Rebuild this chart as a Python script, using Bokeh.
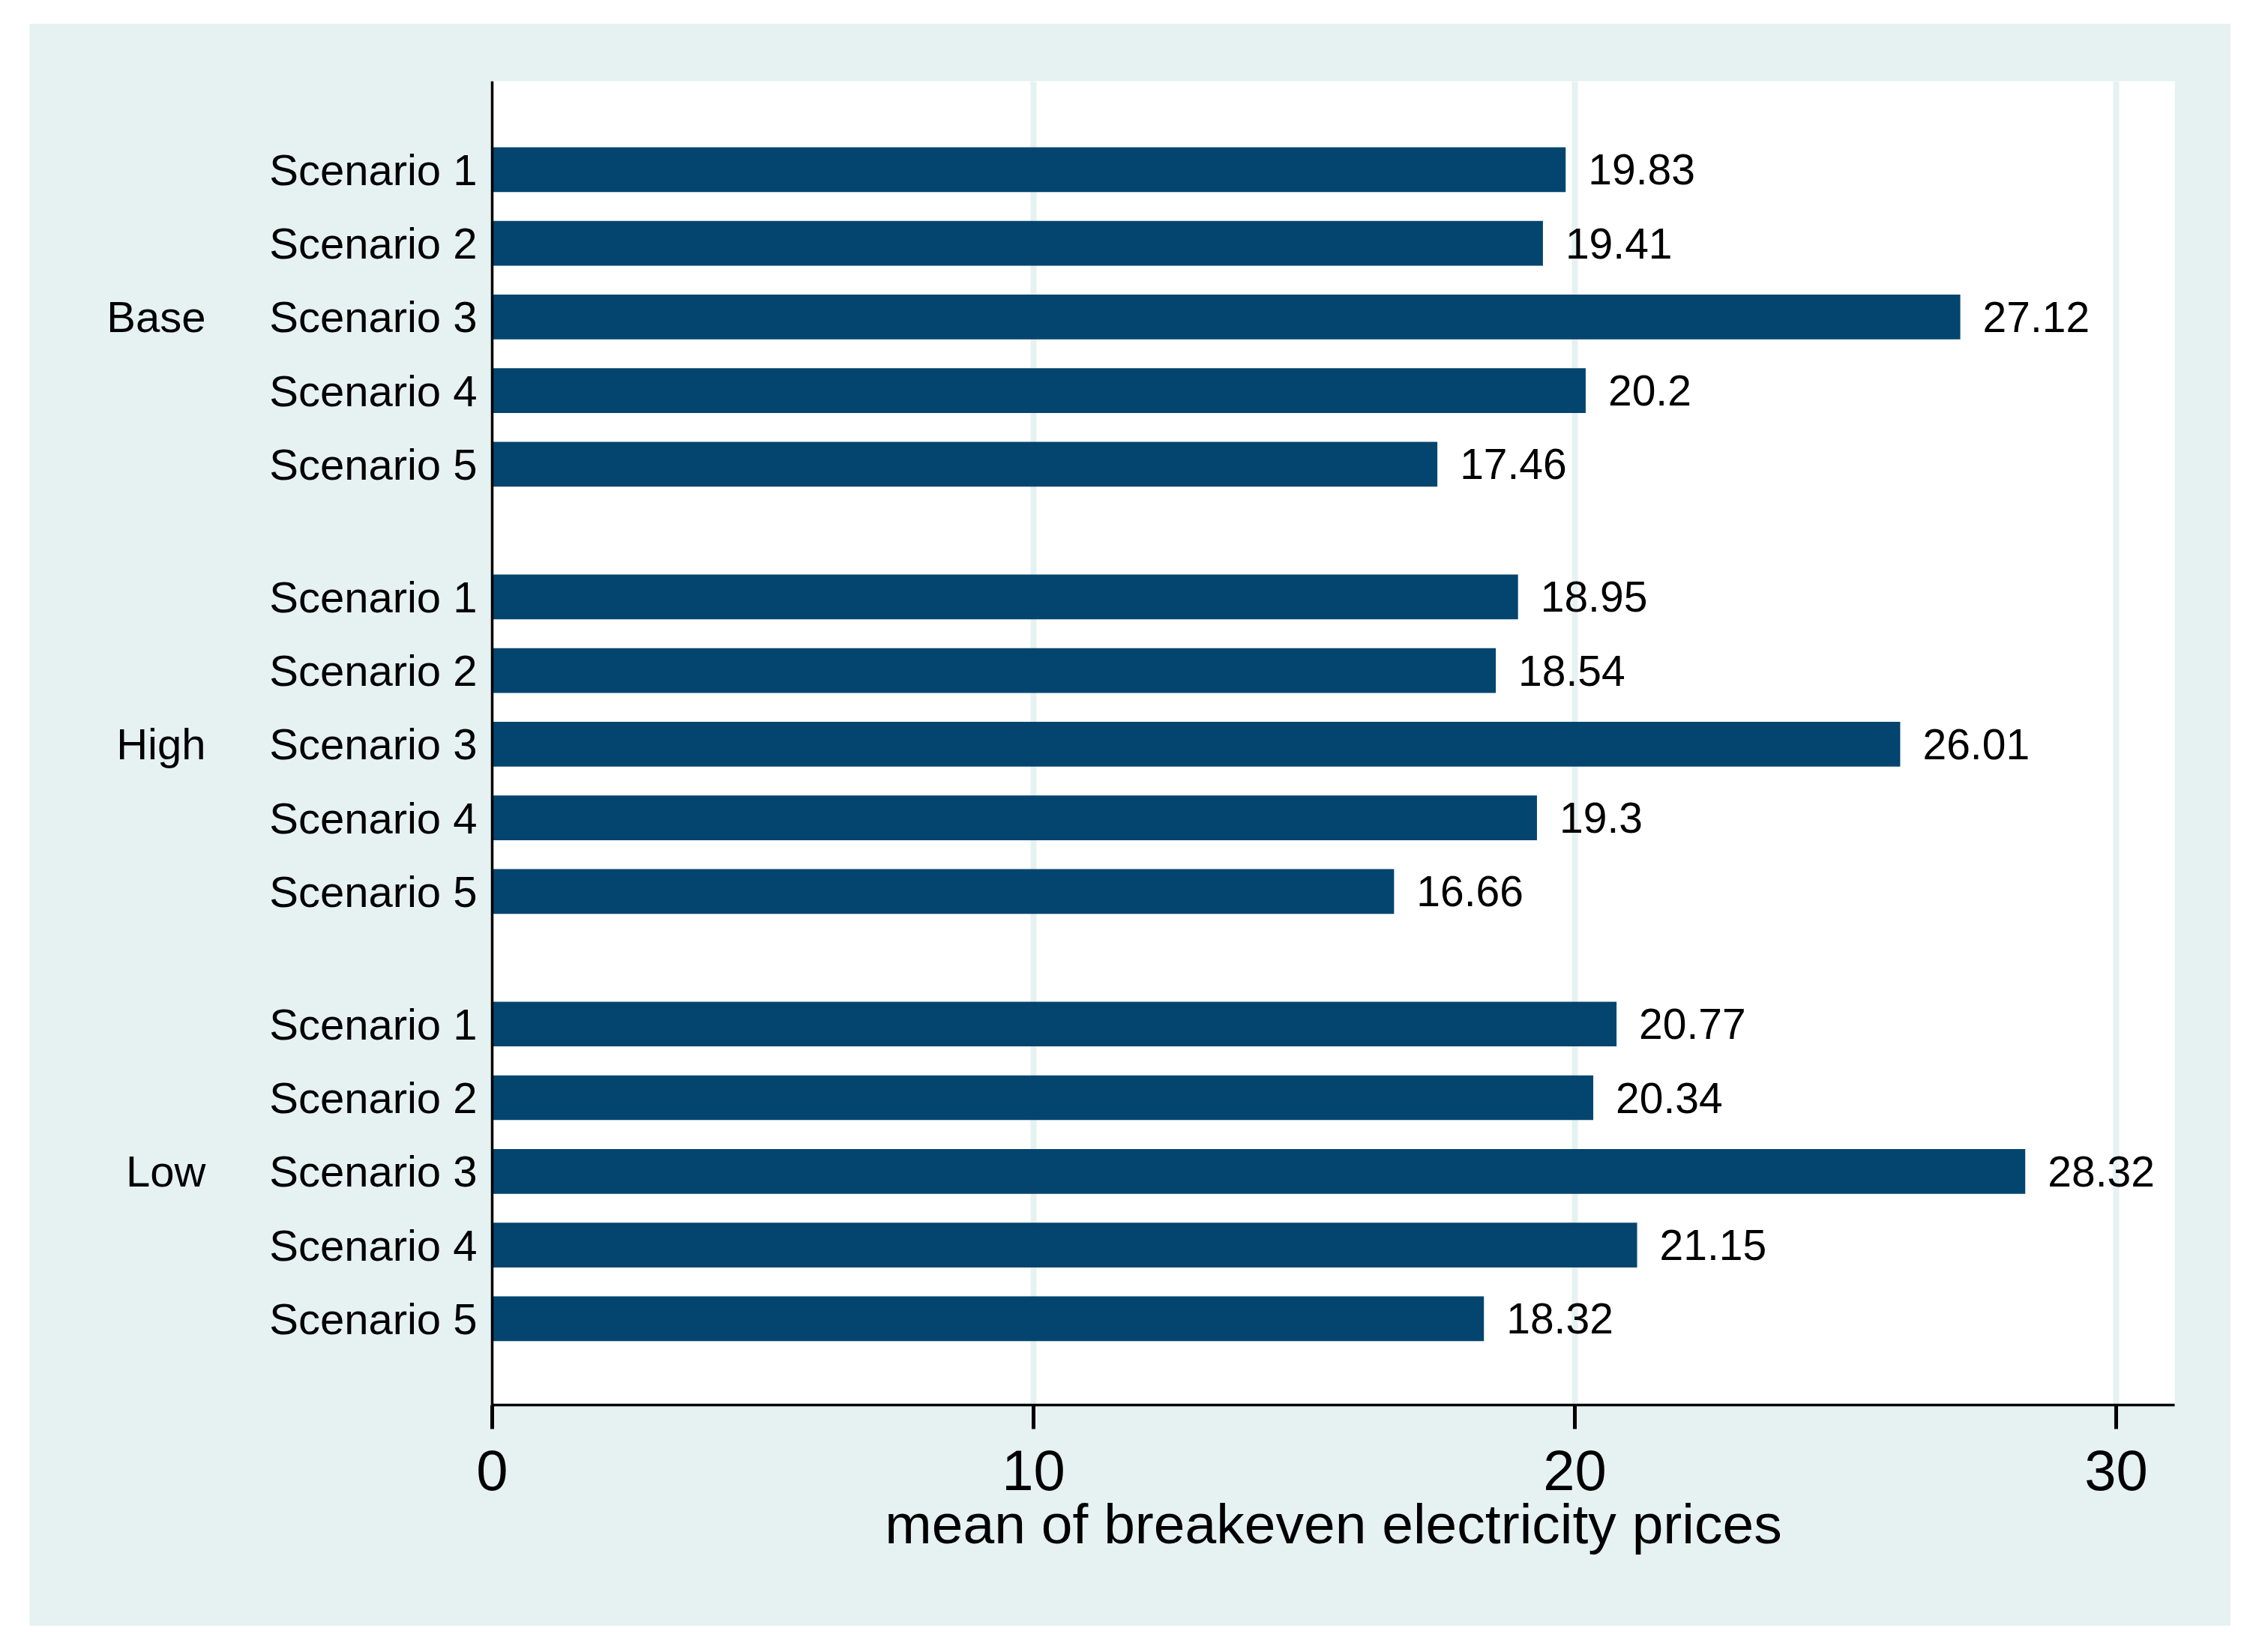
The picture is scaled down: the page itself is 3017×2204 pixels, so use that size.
from bokeh.plotting import figure
from bokeh.models import Range1d, FixedTicker, LinearAxis, ColumnDataSource
from bokeh.core.properties import value
from bokeh.embed import file_html
from bokeh.resources import INLINE

# ---------------- data ----------------
groups = ["Base", "High", "Low"]
scenarios = ["Scenario 1", "Scenario 2", "Scenario 3", "Scenario 4", "Scenario 5"]
base_prices = [19.83, 19.41, 27.12, 20.2, 17.46]
high_prices = [18.95, 18.54, 26.01, 19.3, 16.66]
low_prices = [20.77, 20.34, 28.32, 21.15, 18.32]
x_ticks = [0, 10, 20, 30]
x_title = "mean of breakeven electricity prices"

# ---------------- layout of slots (in 1/5 bar-pitch units) ----------------
STEP = 5          # pitch between bars
GAP = 9           # extra gap between groups (1.8 pitches)
series = [base_prices, high_prices, low_prices]
pos, vals, labs, names = [], [], [], []
group_pos = []
for g, vs in enumerate(series):
    start = g * ((len(scenarios) - 1) * STEP + GAP)
    for i, v in enumerate(vs):
        y = start + i * STEP
        pos.append(y)
        vals.append(v)
        labs.append(f"{v:g}")
        names.append(scenarios[i])
    group_pos.append(start + 2 * STEP)

src = ColumnDataSource(dict(pos=pos, val=vals, lab=labs, name=names))

FONT = "Liberation Sans"
BG = "#E6F1F2"
BAR = "#03456E"

p = figure(
    frame_width=2244, frame_height=1766,
    x_range=Range1d(0, 31.08),
    y_range=Range1d(16.772 * STEP, -1.199 * STEP),
    output_backend="svg", toolbar_location=None,
    min_border_left=617, min_border_right=75, min_border_top=77, min_border_bottom=295,
    background_fill_color="white", border_fill_color=BG, outline_line_color=None,
)
p.margin = (31, 0, 0, 39)

p.hbar(y="pos", left=0, right="val", height=0.6075 * STEP, source=src,
       fill_color=BAR, line_color=None)

p.text(x="val", y="pos", text="lab", source=src, x_offset=30, y_offset=0,
       text_align="left", text_baseline="middle", text_font=value(FONT),
       text_font_size="57px", text_color="black")

# x axis
xa = p.xaxis[0]
xa.ticker = FixedTicker(ticks=x_ticks)
xa.axis_line_width = 3.5
xa.axis_line_color = "black"
xa.major_tick_line_width = 5
xa.major_tick_out = 32
xa.major_tick_in = 0
xa.minor_tick_out = 0
xa.minor_tick_in = 0
xa.major_label_text_font = FONT
xa.major_label_text_font_size = "76px"
xa.major_label_text_color = "black"
xa.major_label_standoff = 28
xa.axis_label = x_title
xa.axis_label_text_font = FONT
xa.axis_label_text_font_size = "75px"
xa.axis_label_text_font_style = "normal"
xa.axis_label_text_color = "black"
xa.axis_label_standoff = 0

p.xgrid.grid_line_color = BG
p.xgrid.grid_line_width = 8
p.ygrid.grid_line_color = None

# y axis: scenario labels
ya = p.yaxis[0]
ya.ticker = FixedTicker(ticks=pos)
ya.major_label_overrides = {pp: nm for pp, nm in zip(pos, names)}
ya.axis_line_width = 3.5
ya.axis_line_color = "black"
ya.major_tick_out = 0
ya.major_tick_in = 0
ya.minor_tick_out = 0
ya.minor_tick_in = 0
ya.major_label_text_font = FONT
ya.major_label_text_font_size = "58px"
ya.major_label_text_color = "black"
ya.major_label_standoff = 20

# outer y axis: group labels
ga = LinearAxis(ticker=FixedTicker(ticks=group_pos),
                major_label_overrides={gp: gn for gp, gn in zip(group_pos, groups)})
ga.axis_line_color = None
ga.major_tick_line_color = None
ga.minor_tick_line_color = None
ga.major_tick_out = 0
ga.major_tick_in = 0
ga.minor_tick_out = 0
ga.minor_tick_in = 0
ga.major_label_text_font = FONT
ga.major_label_text_font_size = "58px"
ga.major_label_text_color = "black"
ga.major_label_standoff = 82
p.add_layout(ga, "left")

open("out.html", "w").write(file_html(p, INLINE))
